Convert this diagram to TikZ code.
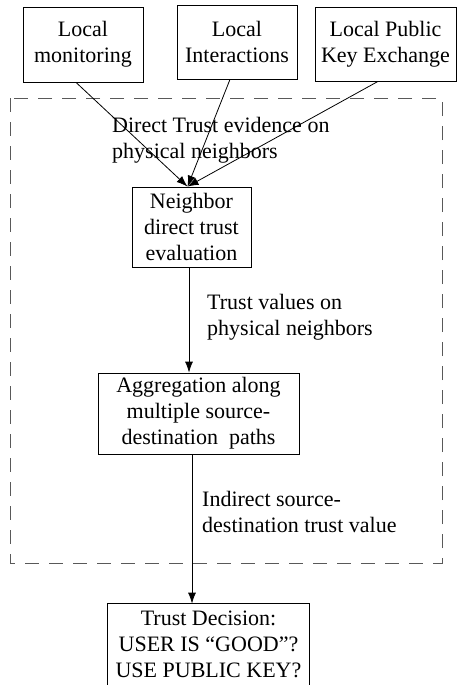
\documentclass[tikz,border=0pt]{standalone}
\usepackage{fontspec}
\setmainfont{Liberation Serif}
\usetikzlibrary{arrows.meta,calc}
\begin{document}
\begin{tikzpicture}[x=1pt,y=-1pt,
  txt/.style={font=\fontsize{22}{26}\selectfont},
  box/.style={draw, line width=0.8pt, align=center, inner sep=0pt, txt},
  lbl/.style={align=left, inner sep=0pt, anchor=north west, txt},
  arr/.style={-{Latex[length=11pt,width=8pt]}, line width=0.8pt}]
\useasboundingbox (0,0) rectangle (457,685);
\fill[white] (0,0) rectangle (457,685);
% dashed frame
\draw[line width=0.8pt, black!65, dash pattern=on 14pt off 10pt] (10,98) rectangle (442,563);
% boxes
\node[box, minimum width=120pt, minimum height=75pt] (lm) at (83,44.5) {Local\\monitoring};
\node[box, minimum width=120pt, minimum height=74pt] (li) at (237,42) {Local\\Interactions};
\node[box, minimum width=141pt, minimum height=74pt] (lp) at (385.5,44) {Local Public\\Key Exchange};
\node[box, minimum width=119pt, minimum height=80pt] (nb) at (191.5,227) {Neighbor\\direct trust\\evaluation};
\node[box, minimum width=201pt, minimum height=81pt] (ag) at (198.5,413.5) {Aggregation along\\multiple source-\\destination\ \ paths};
\node[box, draw=none, minimum width=201pt, minimum height=81pt] (td) at (208.5,644.5) {Trust Decision:\\USER IS “GOOD”?\\USE PUBLIC KEY?};
\draw[line width=0.8pt] (td.south west) -- (td.north west) -- (td.north east) -- (td.south east);
% labels
\node[lbl] (l1) at (112,117) {Direct Trust evidence on\\physical neighbors};
\node[lbl] (l2) at (207,294) {Trust values on\\physical neighbors};
\node[lbl] (l3) at (202,491) {Indirect source-\\destination trust value};
% arrows
\coordinate (tip) at ($(nb.north)+(-4,0)$);
\draw[arr] ($(lm.south)+(-7,0)$) -- (tip);
\draw[arr] ($(li.south)+(-7,0)$) -- (tip);
\draw[arr] ($(lp.south)+(-7.5,0)$) -- (tip);
\draw[arr] ($(nb.south)+(-2.5,0)$) -- ($(ag.north)+(-9.5,0)$);
\draw[arr] ($(ag.south)+(-6.5,0)$) -- ($(td.north)+(-16.5,0)$);
\end{tikzpicture}
\end{document}
